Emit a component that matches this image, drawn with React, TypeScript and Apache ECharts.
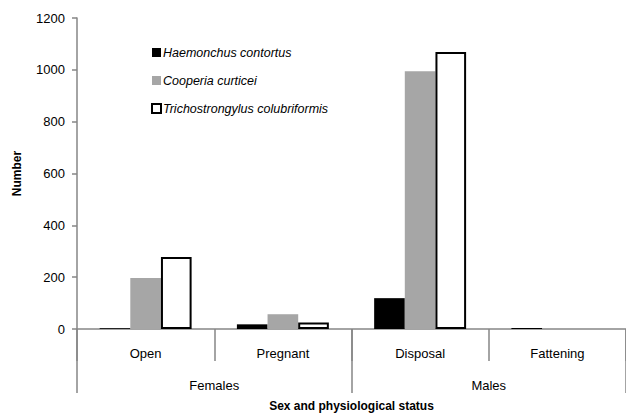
import React, { useEffect, useRef } from "react";
import * as echarts from "echarts";

const categories = ["Open", "Pregnant", "Disposal", "Fattening"];
const groups = ["Females", "Males"];
const haemonchus = [3, 18, 119, 4];
const cooperia = [197, 57, 995, null];
const trichostrongylus = [278, 25, 1069, null];
const yTicks = { min: 0, max: 1200, interval: 200 };

const FONT = "Liberation Sans";
const AXIS_GRAY = "#868686";

export default function App() {
  const ref = useRef<HTMLDivElement>(null);
  useEffect(() => {
    if (!ref.current) return;
    const chart = echarts.init(ref.current, null, { renderer: "svg" });
    chart.setOption({
      animation: false,
      textStyle: { fontFamily: FONT },
      grid: { left: 77, right: 0, top: 18, bottom: 84, containLabel: false },
      legend: {
        orient: "vertical",
        left: 146,
        top: 41,
        itemWidth: 9,
        itemHeight: 9,
        itemGap: 15,
        icon: "rect",
        textStyle: { fontFamily: FONT, fontSize: 12.5, fontStyle: "italic", color: "#000", padding: [0, 0, 0, -3] },
        data: ["Haemonchus contortus", "Cooperia curticei", "Trichostrongylus colubriformis"],
      },
      xAxis: [
        {
          type: "category",
          data: categories,
          position: "bottom",
          axisLine: { show: true, lineStyle: { color: AXIS_GRAY, width: 1.5 } },
          axisTick: { show: true, length: 32, lineStyle: { color: AXIS_GRAY, width: 1.5 } },
          axisLabel: { margin: 18, fontSize: 13, color: "#000", fontFamily: FONT },
        },
        {
          type: "category",
          data: groups,
          position: "bottom",
          axisLine: { show: false },
          axisTick: { show: true, length: 64, lineStyle: { color: AXIS_GRAY, width: 1.5 } },
          axisLabel: { margin: 50, fontSize: 13, color: "#000", fontFamily: FONT },
          name: "Sex and physiological status",
          nameLocation: "middle",
          nameGap: 71,
          nameTextStyle: { fontSize: 12, fontWeight: "bold", color: "#000", fontFamily: FONT },
        },
      ],
      yAxis: {
        type: "value",
        min: yTicks.min,
        max: yTicks.max,
        interval: yTicks.interval,
        splitLine: { show: false },
        axisLine: { show: true, lineStyle: { color: AXIS_GRAY, width: 1.5 } },
        axisTick: { show: true, length: 5, lineStyle: { color: AXIS_GRAY, width: 1.5 } },
        axisLabel: { margin: 12, fontSize: 13, color: "#000", fontFamily: FONT, formatter: (v: number) => String(v) },
        name: "Number",
        nameLocation: "middle",
        nameGap: 54,
        nameTextStyle: { fontSize: 12, fontWeight: "bold", color: "#000", fontFamily: FONT },
      },
      series: [
        {
          name: "Haemonchus contortus",
          type: "bar",
          xAxisIndex: 0,
          data: haemonchus,
          barGap: "0%",
          barCategoryGap: "33%",
          itemStyle: { color: "#000000" },
        },
        {
          name: "Cooperia curticei",
          type: "bar",
          xAxisIndex: 0,
          data: cooperia,
          barGap: "0%",
          barCategoryGap: "33%",
          itemStyle: { color: "#a6a6a6" },
        },
        {
          name: "Trichostrongylus colubriformis",
          type: "bar",
          xAxisIndex: 0,
          data: trichostrongylus,
          barGap: "0%",
          barCategoryGap: "33%",
          itemStyle: { color: "#ffffff", borderColor: "#000000", borderWidth: 2 },
        },
      ],
    });
    return () => chart.dispose();
  }, []);
  return <div ref={ref} style={{ width: 626, height: 417, position: "absolute", left: 0, top: 0 }} />;
}
